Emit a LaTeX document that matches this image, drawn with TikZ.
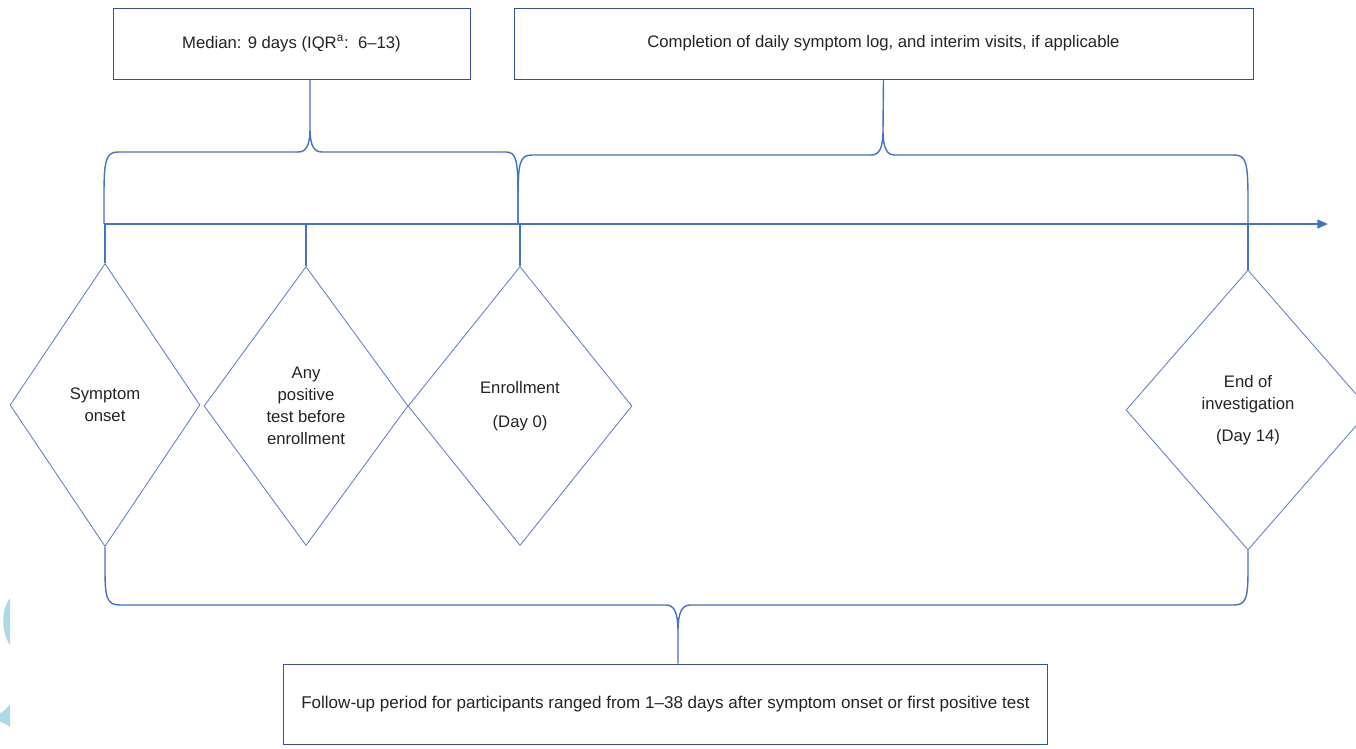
\documentclass[tikz,border=0pt]{standalone}
\usepackage{fontspec}
\setmainfont{Liberation Sans}
\usetikzlibrary{arrows.meta,positioning,shapes.geometric}
\definecolor{lineblue}{RGB}{68,114,196}
\definecolor{boxblue}{RGB}{52,84,150}
\definecolor{dmdblue}{RGB}{98,130,196}
\definecolor{slidecyan}{RGB}{173,216,230}
\definecolor{txtgrey}{RGB}{35,35,35}

\begin{document}
\begin{tikzpicture}[x=0.02cm,y=-0.02cm,
    font=\fontsize{9.5}{12.5}\selectfont,
    infobox/.style={draw=boxblue,line width=0.5pt,text=txtgrey,inner sep=0pt,align=center},
    event/.style={draw=dmdblue,shape=diamond,line width=0.5pt,inner sep=0pt,align=center,text=txtgrey},
    link/.style={draw=lineblue,line width=0.8pt}]
  \useasboundingbox (0,0) rectangle (1356,748);
  \clip (0,0) rectangle (1356,748);
  % slide decoration on the left edge
  \fill[slidecyan] (10,598) .. controls (1,610) and (1,632) .. (10,645) -- cycle;
  \fill[slidecyan] (10,704) .. controls (6,710) and (3,712) .. (0,713) -- (0,722) .. controls (4,723) and (8,725) .. (10,727) -- cycle;

  % boxes
  \node[infobox,minimum width=7.14cm,minimum height=1.42cm] (median) at (291.5,43.5)
    {Median: 9 days (IQR\textsuperscript{a}:\ \ 6–13)};
  \node[infobox,minimum width=14.78cm,minimum height=1.42cm] (log) at (883.5,43.5)
    {Completion of daily symptom log, and interim visits, if applicable};
  \node[infobox,minimum width=15.3cm,minimum height=1.6cm,font=\fontsize{9.7}{12}\selectfont] (follow) at (665.5,704)
    {Follow-up period for participants ranged from 1–38 days after symptom\ onset or first positive test};

  % events
  \node[event,minimum width=3.8cm,minimum height=5.66cm] (onset) at (105,405) {Symptom\\onset};
  \node[event,minimum width=4.08cm,minimum height=5.58cm] (test) at (306,406) {Any\\positive\\test before\\enrollment};
  \node[event,minimum width=4.48cm,minimum height=5.58cm] (enrol) at (520,406) {Enrollment\\[7pt](Day 0)};
  \node[event,minimum width=4.88cm,minimum height=5.6cm] (endinv) at (1248,410) {End of\\investigation\\[6pt](Day 14)};

  % time axis
  \coordinate (axs) at (104,224);
  \coordinate (axe) at (1328,224);
  \draw[link,line width=1pt,-{Triangle[length=6pt,width=5pt]}] (axs) -- (axe);
  \foreach \ev in {onset,test,enrol,endinv}
    \draw[link] (\ev.north) -- (\ev.north |- axs);

  % braces
  \draw[link] (104,224) -- (104,195) .. controls (104,160) and (106,152) .. (118,152)
    -- (298,152) .. controls (306,152) and (310,146) .. (310,128) -- (310,0 |- median.south)
    (310,128) .. controls (310,146) and (314,152) .. (322,152)
    -- (506,152) .. controls (516,152) and (518,160) .. (518,195) -- (518,224);
  \draw[link] (518,224) -- (518,200) .. controls (518,162) and (520,155) .. (532,155)
    -- (871,155) .. controls (879,155) and (883,149) .. (883,130) -- (log.south)
    (883,130) .. controls (883,149) and (887,155) .. (895,155)
    -- (1234,155) .. controls (1246,155) and (1248,162) .. (1248,200) -- (1248,224);
  \draw[link] (onset.south) -- (105,570) .. controls (105,598) and (107,605) .. (120,605)
    -- (666,605) .. controls (674,605) and (678,612) .. (678,632) -- (678,0 |- follow.north)
    (678,632) .. controls (678,612) and (682,605) .. (690,605)
    -- (1234,605) .. controls (1246,605) and (1248,598) .. (1248,570) -- (endinv.south);
\end{tikzpicture}
\end{document}
